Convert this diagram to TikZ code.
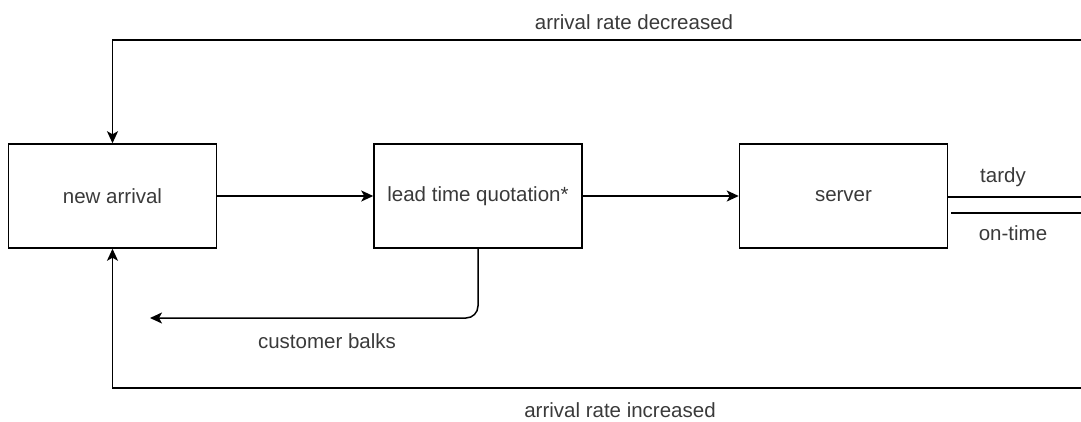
\documentclass[tikz,border=0pt]{standalone}
\usepackage{fontspec}
\setmainfont{Liberation Sans}
\usepackage{tikz}
\usetikzlibrary{matrix}
\usetikzlibrary{arrows.meta}
\definecolor{labelgray}{HTML}{3A3A3A}

\begin{document}
\begin{tikzpicture}[x=1pt,y=-1pt,->,>={Stealth[length=12pt,width=11pt,inset=3pt]},line width=1.5pt,
		every node/.style={text=labelgray,font=\fontsize{20.5}{24}\selectfont}]
		\useasboundingbox (0,0) rectangle (1081,421);
		\matrix[matrix of nodes,nodes={draw=black,line width=1.5pt,minimum width=208pt,minimum height=104pt,inner sep=0pt,anchor=center},column sep=156pt,ampersand replacement=\&] at (478,196)
		{
			|(arrival)| new arrival \& |(quote)| lead time quotation* \& |(server)| server \\
		};
		% feedback loops leave the page on the right
		\coordinate (dec) at (1081,40);
		\coordinate (inc) at (1081,388);
		\coordinate (tardy) at (1081,197);
		\coordinate (ontime) at (1081,213);
		\coordinate (balk) at (150,318);
		\draw (arrival) -- (quote);
		\draw (quote) -- (server);
		\draw (dec) -| (arrival.north);
		\draw (inc) -| (arrival.south);
		\draw[rounded corners=12pt] (quote.south) |- (balk);
		\draw[-] (server.east |- tardy) -- (tardy);
		\draw[-] ([xshift=3pt]server.east |- ontime) -- (ontime);
		% labels
		\node (declabel) at (634,22) {arrival rate decreased};
		\node (inclabel) at (620,410) {arrival rate increased};
		\node (balklabel) at (327,341) {customer balks};
		\node (tardylabel) at (1003,177) {tardy};
		\node (ontimelabel) at (1013,233) {on-time};
		\end{tikzpicture}
\end{document}
